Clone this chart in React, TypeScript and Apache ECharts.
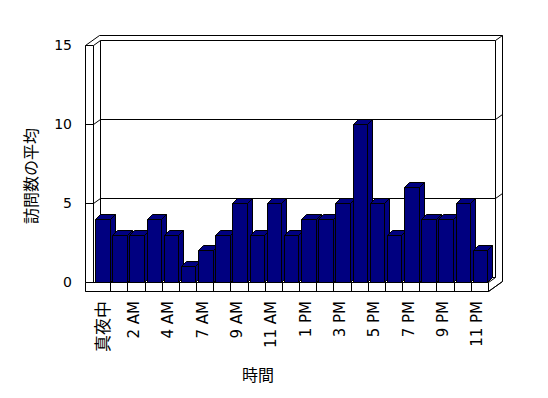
import React, { useEffect, useRef } from "react";
import * as echarts from "echarts";

const categories = [
  "真夜中", "1 AM", "2 AM", "3 AM", "4 AM", "6 AM", "7 AM", "8 AM", "9 AM", "10 AM", "11 AM", "正午",
  "1 PM", "2 PM", "3 PM", "4 PM", "5 PM", "6 PM", "7 PM", "8 PM", "9 PM", "10 PM", "11 PM",
];
const visits = [4, 3, 3, 4, 3, 1, 2, 3, 5, 3, 5, 3, 4, 4, 5, 10, 5, 3, 6, 4, 4, 5, 2];
const yTicks = [0, 5, 10, 15];
const yMax = 15;
const yStep = 5;
const xTitle = "時間";
const yTitle = "訪問数の平均";

const W = 548;
const H = 398;
const GL = 93;
const GR = 488;
const GT = 45;
const GB = 282;
const DX = 7;
const DY = -5;
const WALL = 8;
const FLOOR = 9;
const BAR_DX = 5;
const BAR_DY = -5;
const NAVY = "#000080";
const LATIN = "DejaVu Sans";
const CJK = "Noto Sans CJK JP";
const INK = "rgb(0,0,0)";

const c = (v: number) => Math.round(v) + 0.5;
const yF = (v: number) => GT + ((yMax - v) / yMax) * (GB - GT);

function frameGraphics() {
  const line = (x1: number, y1: number, x2: number, y2: number) => ({
    type: "line",
    z: 0,
    silent: true,
    shape: { x1: c(x1), y1: c(y1), x2: c(x2), y2: c(y2) },
    style: { stroke: "#000", lineWidth: 1 },
  });
  const poly = (pts: number[][]) => ({
    type: "polygon",
    z: 0,
    silent: true,
    shape: { points: pts.map((p) => [c(p[0]), c(p[1])]) },
    style: { fill: "#fff", stroke: "#000", lineWidth: 1 },
  });
  const els: any[] = [];
  els.push(
    poly([
      [GL - WALL, GT],
      [GL - WALL + 2 * DX, GT + 2 * DY],
      [GR + 2 * DX, GT + 2 * DY],
      [GR + 2 * DX, GB + FLOOR + 2 * DY],
      [GR, GB + FLOOR],
      [GL - WALL, GB + FLOOR],
    ])
  );
  els.push(
    poly([
      [GL + DX, GT + DY],
      [GR + DX, GT + DY],
      [GR + DX, GB + DY],
      [GL + DX, GB + DY],
    ])
  );
  els.push(line(GR + DX, GT + DY, GR + 2 * DX, GT + 2 * DY));
  els.push(
    poly([
      [GL - WALL, GT],
      [GL, GT],
      [GL, GB],
      [GL - WALL, GB],
    ])
  );
  els.push(line(GL, GT, GL + DX, GT + DY));
  yTicks.forEach((v) => {
    if (v === 0 || v === yMax) return;
    const y = yF(v);
    els.push(line(GL - WALL, y, GL, y));
    els.push(line(GL, y, GL + DX, y + DY));
    els.push(line(GL + DX, y + DY, GR + DX, y + DY));
    els.push(line(GR + DX, y + DY, GR + 2 * DX, y + 2 * DY));
  });
  els.push(
    poly([
      [GL - WALL, GB],
      [GR, GB],
      [GR, GB + FLOOR],
      [GL - WALL, GB + FLOOR],
    ])
  );
  const bw = (GR - GL) / categories.length;
  for (let k = 1; k < categories.length; k++) {
    els.push(line(GL + k * bw, GB, GL + k * bw, GB + FLOOR));
  }
  els.push(line(GR, GB + FLOOR, GR + 2 * DX, GB + FLOOR + 2 * DY));
  els.push(line(GR, GB, GR + DX, GB + DY));
  const title = (text: string, x: number, y: number, rotation: number) => ({
    type: "text",
    z: 0,
    x,
    y,
    rotation,
    style: {
      text,
      x: 0,
      y: 0,
      fill: INK,
      fontSize: 16,
      fontFamily: CJK,
      textAlign: "center",
      textVerticalAlign: "middle",
      align: "center",
      verticalAlign: "middle",
    },
  });
  els.push(title(yTitle, 30, 176, Math.PI / 2));
  els.push(title(xTitle, 258, 374, 0));
  return els;
}

export default function App() {
  const ref = useRef<HTMLDivElement>(null);
  useEffect(() => {
    if (!ref.current) return;
    const chart = echarts.init(ref.current, undefined, { renderer: "svg", width: W, height: H });
    const barStyle = { fill: NAVY, stroke: "#000", lineWidth: 1 };
    chart.setOption({
      animation: false,
      backgroundColor: "#fff",
      grid: { left: GL, top: GT, width: GR - GL, height: GB - GT, containLabel: false },
      xAxis: {
        type: "category",
        data: categories,
        boundaryGap: true,
        axisLine: { show: false },
        axisTick: { show: false },
        splitLine: { show: false },
        axisLabel: {
          interval: 1,
          rotate: 90,
          margin: 19,
          color: INK,
          fontSize: 15,
          fontFamily: LATIN,
          formatter: (v: string) => (/[^\x00-\x7F]/.test(v) ? `{c|${v}}` : `{l|${v}}`),
          rich: {
            c: { fontSize: 17, fontFamily: CJK, color: INK, textBorderWidth: 0 },
            l: { fontSize: 15, fontFamily: LATIN, color: INK, textBorderWidth: 0, padding: [0, 0, 4, 0] },
          },
        },
      },
      yAxis: {
        type: "value",
        min: 0,
        max: yMax,
        interval: yStep,
        axisLine: { show: false },
        axisTick: { show: false },
        splitLine: { show: false },
        axisLabel: { margin: 21, color: INK, fontSize: 14, fontFamily: LATIN },
      },
      graphic: { elements: frameGraphics() },
      series: [
        {
          type: "custom",
          z: 10,
          data: visits.map((v, i) => [i, v]),
          encode: { x: 0, y: 1 },
          renderItem: (params: any, api: any) => {
            const i = api.value(0);
            const v = api.value(1);
            const top = api.coord([i, v]);
            const base = api.coord([i, 0]);
            const bw = api.size([1, 0])[0];
            const x0 = c(top[0] - bw / 2 + 2);
            const x1 = c(top[0] - bw / 2 + 16.5);
            const yT = c(top[1]);
            const yB = c(base[1]);
            return {
              type: "group",
              children: [
                {
                  type: "polygon",
                  shape: { points: [[x1, yB], [x1 + BAR_DX, yB + BAR_DY], [x1 + BAR_DX, yT + BAR_DY], [x1, yT]] },
                  style: barStyle,
                },
                {
                  type: "polygon",
                  shape: { points: [[x0, yT], [x0 + BAR_DX, yT + BAR_DY], [x1 + BAR_DX, yT + BAR_DY], [x1, yT]] },
                  style: barStyle,
                },
                { type: "rect", shape: { x: x0, y: yT, width: x1 - x0, height: yB - yT }, style: barStyle },
              ],
            };
          },
        },
      ],
    });
    return () => chart.dispose();
  }, []);
  return <div ref={ref} style={{ position: "absolute", left: 0, top: 0, width: W, height: H }} />;
}
